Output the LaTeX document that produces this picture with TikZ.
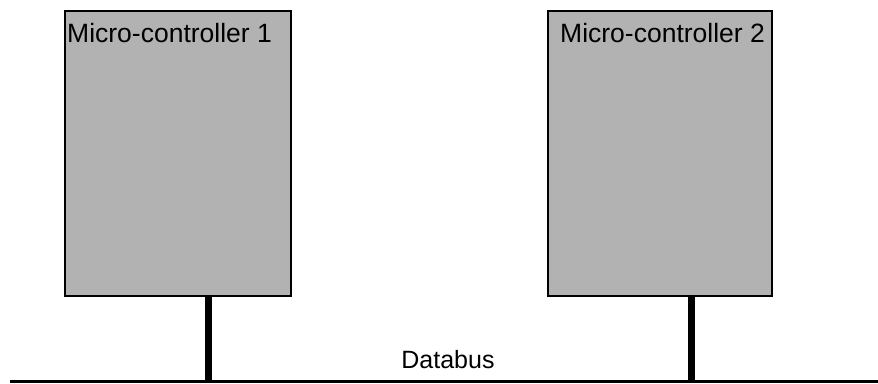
\documentclass[tikz,border=0pt]{standalone}
\usepackage{fontspec}
\setmainfont{Liberation Sans}
\definecolor{boxfill}{gray}{0.7}
\begin{document}
\begin{tikzpicture}[x=1pt,y=-1pt,
  mcbox/.style={draw=black,line width=2pt,fill=boxfill},
  lbl/.style={font=\fontsize{26.5}{30}\selectfont,inner sep=0pt},
  buslbl/.style={font=\fontsize{25}{29}\selectfont,inner sep=0pt},
  stub/.style={line width=7pt},
  bus/.style={line width=2.5pt}]
\useasboundingbox (0,0) rectangle (878,383);
\path[mcbox] (65,11) rectangle (291,296);
\path[mcbox] (548,11) rectangle (772,296);
\node[lbl,anchor=base west] (l1) at (67,42) {Micro-controller 1};
\node[lbl,anchor=base west] (l2) at (560,42) {Micro-controller 2};
\coordinate (b1) at (208.5,297);
\coordinate (b2) at (691,297);
\coordinate (bl) at (10,381.5);
\coordinate (br) at (878,381.5);
\coordinate (c1) at (208.5,381.5);
\coordinate (c2) at (691,381.5);
\draw[stub] (b1) -- (c1);
\draw[stub] (b2) -- (c2);
\draw[bus] (bl) -- (br);
\node[buslbl,anchor=base] (db) at (448,368) {Databus};
\end{tikzpicture}
\end{document}
